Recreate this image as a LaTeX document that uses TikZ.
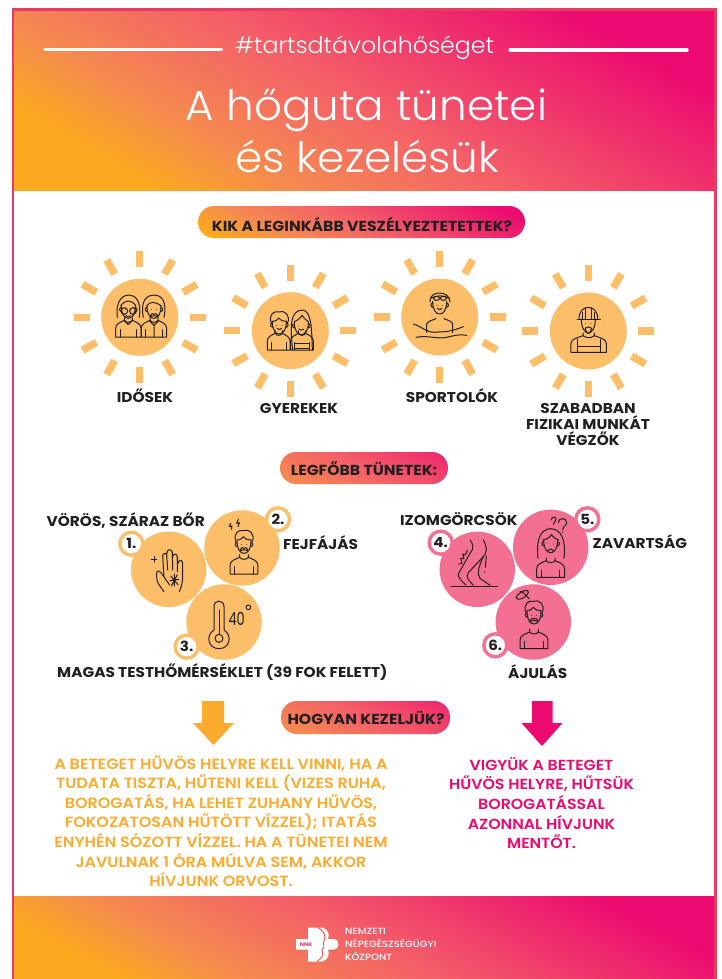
\documentclass[tikz,border=0pt]{standalone}
\usepackage{fontspec}
\setmainfont{Poppins}[FakeStretch=1.08]
\newfontfamily\lightf{Poppins Light}[FakeStretch=1.04]
\newfontfamily\mediumf{Poppins Medium}[FakeStretch=1.12]
\newfontfamily\semif{Poppins SemiBold}[FakeStretch=1.08]
\newfontfamily\narrowf{Poppins}[FakeStretch=0.72]
\usetikzlibrary{calc}
\definecolor{org}{HTML}{FBA91E}
\definecolor{pnk}{HTML}{EC0A70}
\definecolor{midc}{HTML}{F45F68}
\definecolor{salm}{HTML}{F58A50}
\definecolor{frm}{HTML}{E93A62}
\definecolor{sun}{HTML}{FDBE69}
\definecolor{rose}{HTML}{F37092}
\definecolor{ink}{HTML}{231F20}
\definecolor{orgtxt}{HTML}{FBAB2E}
\newcommand{\defhog}[4]{\pgfdeclarehorizontalshading{#1}{100bp}{color(0bp)=(org); color(#2bp)=(org); color(#3bp)=(salm); color(50bp)=(midc); color(#4bp)=(pnk); color(100bp)=(pnk)}}
\defhog{hogbig}{38.6}{43.2}{61.4}
\defhog{hogfoot}{40.6}{44.4}{59.4}
\defhog{hogpill}{41}{44.6}{59}
% a large square, clipped by the caller, with a slanted gradient
\newcommand{\gradfill}[5]{\shade[shading=#5,shading angle=#3] (#1-#4,#2-#4) rectangle (#1+#4,#2+#4);}
\newcommand{\pillbox}[6]{%
 \begin{scope}\clip[rounded corners=16pt] (#1,#2) rectangle (#3,#4);
 \gradfill{#5}{#6}{65}{200}{hogpill}\end{scope}}
\tikzset{
 ic/.style={draw=ink,line width=1pt,line cap=round,line join=round,fill=none},
 ray/.style={draw=sun,line width=7.5pt},
 disc/.style={fill=sun,draw=none},
 lab/.style={inner sep=0pt,text=ink,font=\fontsize{14.2}{16}\bfseries\selectfont,align=center},
 pilltxt/.style={inner sep=0pt,text=ink,font=\fontsize{14.5}{16}\bfseries\selectfont},
 badge/.style={circle,fill=white,line width=3.4pt,minimum size=23pt,inner sep=0pt,text=ink,font=\fontsize{14}{16}\bfseries\selectfont},
 body1/.style={inner sep=0pt,align=center,font=\semif\fontsize{14.8}{19.6}\selectfont},
 body2/.style={inner sep=0pt,align=center,font=\semif\fontsize{14.6}{19.6}\selectfont},
}
% sun with twelve rays
\newcommand{\sunat}[3]{%
 \fill[disc] (#1,#2) circle (38.5);
 \foreach \a in {0,30,...,330}{\draw[ray] ($(#1,#2)+(\a:50pt)$) -- ($(#1,#2)+(\a:66pt)$);}
 \coordinate (#3) at (#1,#2);}
% shoulders: origin bottom centre, half width 38 (in zoom units)
\newcommand{\bodyat}[3]{\begin{scope}[shift={(#1,#2)},xscale=#3]
 \draw[ic] (-38,0) -- (-38,-26) .. controls (-38,-40) and (-24,-44) .. (-12,-50) -- (-12,-58)
   (12,-58) -- (12,-50) .. controls (24,-44) and (38,-40) .. (38,-26) -- (38,0) -- (-38,0);
 \draw[ic] (-12,-50) .. controls (-6,-42) and (6,-42) .. (12,-50);
 \draw[ic] (-25,0) -- (-25,-22) (25,0) -- (25,-22);
 \end{scope}}
% head: origin centre
\newcommand{\headat}[2]{\begin{scope}[shift={(#1,#2)}]
 \draw[ic] (-21,-8) .. controls (-21,20) and (-10,30) .. (0,30) .. controls (10,30) and (21,20) .. (21,-8);
 \draw[ic] (-21,-2) .. controls (-28,-4) and (-28,10) .. (-20,10) (21,-2) .. controls (28,-4) and (28,10) .. (20,10);
 \fill[ink] (-8,4) circle (1.3) (8,4) circle (1.3);
 \end{scope}}
\newcommand{\hairat}[2]{\begin{scope}[shift={(#1,#2)}]
 \draw[ic] (-24,-2) .. controls (-34,-30) and (-14,-40) .. (-2,-36) .. controls (14,-44) and (36,-26) .. (24,-2);
 \draw[ic] (-21,-8) .. controls (-10,-8) and (-4,-14) .. (-2,-18) .. controls (2,-10) and (12,-8) .. (21,-8);
 \end{scope}}
\newcommand{\smileat}[2]{\draw[ic] (#1-7,#2+15) .. controls (#1-3,#2+20) and (#1+3,#2+20) .. (#1+7,#2+15);}
\newcommand{\moustat}[2]{\draw[ic] (#1-12,#2+22) .. controls (#1-8,#2+10) and (#1-2,#2+12) .. (#1,#2+15) .. controls (#1+2,#2+12) and (#1+8,#2+10) .. (#1+12,#2+22) .. controls (#1+5,#2+18) and (#1-5,#2+18) .. (#1-12,#2+22);}
\begin{document}
\begin{tikzpicture}[x=1pt,y=-1pt]
\useasboundingbox (0,0) rectangle (721,979);
\fill[white] (0,0) rectangle (721,979);
% header and footer bands
\begin{scope}\clip (13,9) rectangle (714.5,190.5);
 \gradfill{363}{100}{60}{400}{hogbig}\end{scope}
\begin{scope}\clip (13,896) rectangle (714.5,979);
 \gradfill{363}{938}{62}{400}{hogfoot}\end{scope}
\draw[frm,line width=2.4pt] (13,979) -- (13,9.5) -- (715.5,9.5) -- (715.5,979);
% header text
\coordinate (hl1) at (45,49.5); \coordinate (hl2) at (221.5,49.5);
\coordinate (hr1) at (510,50); \coordinate (hr2) at (687,50);
\draw[white,line width=3.2pt,line cap=round] (hl1) -- (hl2);
\draw[white,line width=3.2pt,line cap=round] (hr1) -- (hr2);
\node[inner sep=0pt,text=white,font=\lightf\fontsize{22.8}{26}\selectfont] (tag) at (364.5,48) {\#tartsdtávolahőséget};
\node[inner sep=0pt,text=white,font=\lightf\fontsize{42}{47}\selectfont] (t1) at (366.5,110) {A hőguta tünetei};
\node[inner sep=0pt,text=white,font=\lightf\fontsize{42}{47}\selectfont] (t2) at (367.5,157) {és kezelésük};
% pills
\pillbox{198}{206}{525}{238}{361}{222}
\node[pilltxt] (p1) at (362,224) {KIK A LEGINKÁBB VESZÉLYEZTETETTEK?};
\pillbox{280}{452}{448}{484}{364}{468}
\node[pilltxt] (p2) at (364,469) {LEGFŐBB TÜNETEK:};
\pillbox{281}{701}{450}{734}{365}{717}
\node[pilltxt] (p3) at (366,718) {HOGYAN KEZELJÜK?};
% suns
\sunat{139.7}{317.3}{s1}
\sunat{290.3}{330.7}{s2}
\sunat{439.7}{317}{s3}
\sunat{588.3}{331}{s4}
\node[lab] (l1) at (145,395.5) {IDŐSEK};
\node[lab] (l2) at (299,408.5) {GYEREKEK};
\node[lab] (l3) at (452,395.5) {SPORTOLÓK};
\node[lab,font=\fontsize{14.2}{15.8}\bfseries\selectfont] (l4) at (588,424.5) {SZABADBAN\\FIZIKAI MUNKÁT\\VÉGZŐK};
% elders and children
\begin{scope}[shift={(60,240)},scale=1/3]
 \bodyat{205}{291}{1} \bodyat{282}{291}{1}
 \headat{205}{205} \headat{282}{205}
 \draw[ic] (172,232) .. controls (165,175) and (195,165) .. (205,165) .. controls (225,165) and (245,180) .. (238,232);
 \draw[ic] (182,198) .. controls (195,178) and (215,178) .. (228,198);
 \draw[ic] (193,213) circle (10) (219,213) circle (10);
 \smileat{205}{212}
 \draw[ic] (193,242) -- (205,254) -- (217,242) (268,242) -- (282,256) -- (296,242) (282,256) -- (282,291);
 \draw[ic] (250,232) .. controls (240,180) and (262,165) .. (282,165) .. controls (302,165) and (322,180) .. (312,232);
 \draw[ic] (260,198) .. controls (270,185) and (282,182) .. (304,198);
 \moustat{282}{208}
 % children
 \bodyat{656}{330}{0.9} \bodyat{726}{330}{0.9}
 \headat{658}{252} \headat{724}{254}
 \hairat{658}{252}
 \smileat{658}{250} \smileat{724}{252}
 \draw[ic] (698,330) .. controls (690,260) and (690,212) .. (726,210) .. controls (752,212) and (755,250) .. (757,330);
 \draw[ic] (703,245) .. controls (716,240) and (722,232) .. (726,226) .. controls (730,234) and (738,240) .. (745,245);
 \draw[ic] (704,310) rectangle (748,324);
\end{scope}
\begin{scope}[shift={(370,240)},scale=1/3]
 \headat{209}{192}
 \smileat{209}{190}
 \draw[ic] (180,186) .. controls (176,150) and (240,150) .. (240,186);
 \draw[ic] (182,175) .. controls (200,165) and (220,165) .. (238,175);
 \draw[ic] (200,175) ellipse (9 and 6) (220,175) ellipse (9 and 6);
 \draw[ic] (170,278) -- (170,252) .. controls (175,242) and (190,240) .. (198,236) (222,236) .. controls (230,240) and (245,242) .. (248,252) -- (248,278);
 \draw[ic] (130,252) .. controls (155,258) and (170,282) .. (205,276) .. controls (235,276) and (255,270) .. (280,260);
 \draw[ic] (138,292) .. controls (175,285) and (200,298) .. (230,292) .. controls (255,286) and (270,282) .. (290,286);
 % worker
 \begin{scope}[shift={(655,245)}]
 \draw[ic] (-21,-8) .. controls (-21,20) and (-10,34) .. (0,34) .. controls (10,34) and (21,20) .. (21,-8);
 \draw[ic] (-34,-7) -- (36,-7);
 \draw[ic] (-28,-7) .. controls (-30,-55) and (30,-55) .. (28,-7);
 \draw[ic] (-8,-7) -- (-8,-40) (8,-7) -- (8,-40) (-18,-7) -- (-18,-28) (18,-7) -- (18,-28);
 \draw[ic] (-10,20) .. controls (-5,14) and (5,14) .. (10,20) -- (4,34) -- (-4,34) -- (-10,20);
 \fill[ink] (-8,6) circle (1.3) (8,6) circle (1.3);
 \end{scope}
 \bodyat{656}{337}{1.4}
 \draw[ic] (622,337) -- (622,298) (690,337) -- (690,298) (622,318) -- (690,318);
\end{scope}
% symptom circles
\fill[disc] (168.7,569.3) circle (37.7) (242,548) circle (37.7) (224,622) circle (37.7);
\fill[rose] (477.3,569.3) circle (37.7) (550.7,547.3) circle (37.7) (533.3,622) circle (37.7);
\begin{scope}[shift={(40,490)},scale=1/3]
 % hand
 \draw[ic] (372,305) .. controls (362,290) and (350,280) .. (350,262) -- (350,250) .. controls (350,241) and (358,241) .. (362,247) -- (372,260)
   -- (368,198) .. controls (368,188) and (380,188) .. (380,196) -- (381,188) .. controls (382,176) and (396,176) .. (397,188) -- (398,200) .. controls (400,190) and (411,190) .. (412,200) -- (413,222) .. controls (416,208) and (428,208) .. (428,220) -- (428,262) .. controls (428,280) and (422,295) .. (418,305);
 \draw[ic] (380,196) -- (383,240) (397,188) -- (398,240) (412,200) -- (412,245);
 \draw[ic] (372,260) .. controls (374,272) and (384,272) .. (388,285);
 \draw[ic] (392,258) -- (414,284) (412,254) -- (394,288) (390,272) -- (416,268) (403,252) -- (403,288);
 \draw[ic] (342,200) -- (342,216) (334,208) -- (350,208);
 % thermometer
 \draw[ic] (522,420) -- (522,350) .. controls (522,328) and (552,328) .. (552,350) -- (552,420) .. controls (578,436) and (570,476) .. (537,476) .. controls (504,476) and (496,436) .. (522,420);
 \draw[ic] (537,445) circle (12);
 \draw[ic] (537,360) -- (537,433);
 \draw[ic] (625,352) circle (7);
 \node[inner sep=0pt,text=ink,font=\narrowf\fontsize{18}{20}\selectfont] (forty) at (590,386) {40};
 % headache
 \bodyat{612}{252}{1.1}
 \headat{612}{160}
 \hairat{612}{158}
 \moustat{612}{160}
 \draw[ic] (572,100) -- (568,110) -- (576,108) -- (574,118) (595,88) -- (590,100) -- (598,98) -- (594,110);
\end{scope}
\begin{scope}[shift={(390,490)},scale=1/3]
 % legs
 \draw[ic] (183,288) -- (323,288);
 \draw[ic] (240,150) .. controls (248,160) and (255,172) .. (240,190) -- (206,250) .. controls (203,258) and (206,266) .. (228,285);
 \draw[ic] (280,150) .. controls (290,170) and (296,185) .. (275,205) -- (235,248) .. controls (226,262) and (236,270) .. (250,286);
 \draw[ic] (280,200) .. controls (266,230) and (260,250) .. (270,265) -- (300,286);
 \draw[ic] (232,180) -- (226,195) -- (218,192) -- (222,206) -- (212,205) -- (216,220) -- (206,222);
 \draw[ic] (289,198) -- (286,232) (284,246) -- (284,248);
 % confused
 \bodyat{482}{262}{1.1}
 \headat{482}{158}
 \draw[ic] (444,205) .. controls (438,150) and (450,118) .. (482,116) .. controls (515,118) and (528,150) .. (522,205);
 \draw[ic] (459,150) .. controls (470,148) and (480,142) .. (484,134) .. controls (490,142) and (498,148) .. (506,150);
 \draw[ic] (473,182) .. controls (478,175) and (486,175) .. (491,182);
 \draw[ic] (505,98) .. controls (505,82) and (530,82) .. (530,98) .. controls (530,108) and (518,108) .. (518,120) (518,126) -- (518,128);
 \draw[ic] (484,90) .. controls (484,78) and (500,78) .. (498,90) .. controls (496,96) and (490,96) .. (490,104);
 % fainted
 \bodyat{432}{476}{1.1}
 \headat{432}{372}
 \hairat{432}{370}
 \moustat{432}{372}
 \draw[ic] (378,322) .. controls (392,300) and (420,295) .. (415,308) .. controls (408,325) and (380,335) .. (378,322);
 \draw[ic] (390,305) .. controls (395,300) and (410,320) .. (418,326);
\end{scope}
% badges
\node[badge,draw=sun] (b1) at (131.3,543.7) {1.};
\node[badge,draw=sun] (b2) at (278,519.3) {2.};
\node[badge,draw=sun] (b3) at (186.7,646.7) {3.};
\node[badge,draw=rose] (b4) at (440.7,542.7) {4.};
\node[badge,draw=rose] (b5) at (587.3,519.3) {5.};
\node[badge,draw=rose] (b6) at (495.3,645.3) {6.};
% symptom labels
\node[lab,anchor=west] (v1) at (46.5,520) {VÖRÖS, SZÁRAZ BŐR};
\node[lab,anchor=west] (v2) at (283,543) {FEJFÁJÁS};
\node[lab,anchor=west] (v3) at (57,672) {MAGAS TESTHŐMÉRSÉKLET (39 FOK FELETT)};
\node[lab,anchor=west] (v4) at (400,519.5) {IZOMGÖRCSÖK};
\node[lab,anchor=west] (v5) at (592.5,542) {ZAVARTSÁG};
\node[lab,anchor=west] (v6) at (508,672) {ÁJULÁS};
% arrows
\fill[orgtxt] (202,701) -- (224,701) -- (224,723) -- (234,723) -- (213.5,745) -- (193,723) -- (202,723) -- cycle;
\fill[pnk] (532,701) -- (552.5,701) -- (552.5,723) -- (562.6,723) -- (542,746) -- (521.5,723) -- (532,723) -- cycle;
% body texts
\node[body1,text=orgtxt] (tx1) at (221,821) {A BETEGET HŰVÖS HELYRE KELL VINNI, HA A\\TUDATA TISZTA, HŰTENI KELL (VIZES RUHA,\\BOROGATÁS, HA LEHET ZUHANY HŰVÖS,\\FOKOZATOSAN HŰTÖTT VÍZZEL); ITATÁS\\ENYHÉN SÓZOTT VÍZZEL. HA A TÜNETEI NEM\\JAVULNAK 1 ÓRA MÚLVA SEM, AKKOR\\HÍVJUNK ORVOST.};
\node[body2,text=pnk] (tx2) at (541.5,803) {VIGYÜK A BETEGET\\HŰVÖS HELYRE, HŰTSÜK\\BOROGATÁSSAL\\AZONNAL HÍVJUNK\\MENTŐT.};
% logo
\fill[white] (296,939) -- (308,939) -- (308,927.5) -- (322,927.5) .. controls (330,930) and (329,936) .. (328,939) -- (334,939) .. controls (340,939) and (340,949.5) .. (334,949.5) -- (328,949.5) .. controls (329,953) and (330,959) .. (322,961.5) -- (308,961.5) -- (308,949.5) -- (296,949.5) -- cycle;
\draw[frm!70!orange,line width=0.9pt] (318,927.5) .. controls (325,932) and (326,936) .. (324,941) .. controls (322,944) and (326,946) .. (322,950) .. controls (324,955) and (322,958) .. (317,961.5);
\node[inner sep=0pt,text=frm,font=\bfseries\fontsize{5.2}{6}\selectfont] (nnk) at (306,944.5) {NNK};
\node[inner sep=0pt,anchor=west,text=white,font=\mediumf\fontsize{9}{13}\selectfont,align=left] (lg) at (345,944) {NEMZETI\\NÉPEGÉSZSÉGÜGYI\\KÖZPONT};
\end{tikzpicture}
\end{document}
